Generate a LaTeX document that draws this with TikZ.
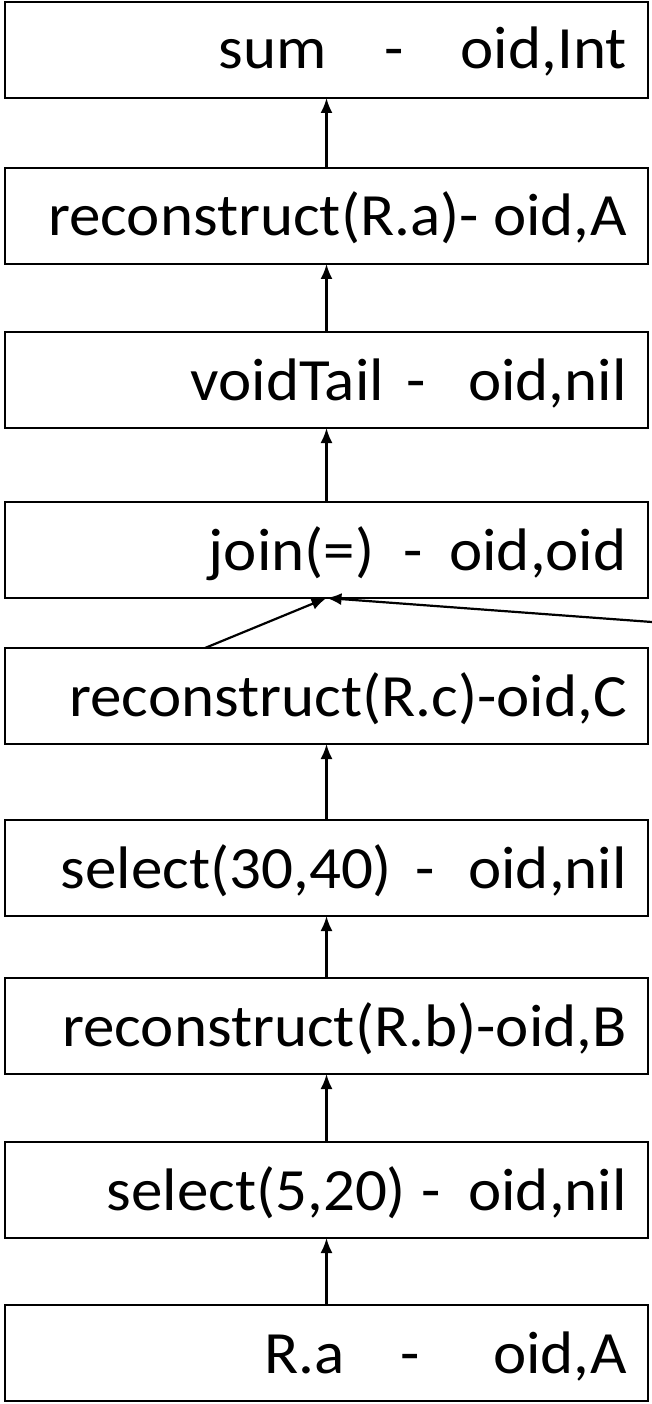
\documentclass[tikz,border=0pt]{standalone}
\usepackage{fontspec}
\setmainfont{Carlito}[FakeStretch=1.05]
\usetikzlibrary{arrows.meta,calc}
\begin{document}
\begin{tikzpicture}[x=1pt,y=-1pt,
  opbox/.style={draw,line width=2.2pt,minimum width=643pt,minimum height=96pt,
    anchor=north west,inner sep=0pt,outer sep=0pt},
  optext/.style={anchor=base east,inner sep=0pt,font=\fontsize{60}{72}\selectfont},
  flow/.style={line width=2.2pt,-{Latex[length=15pt,width=12pt]}}]
\useasboundingbox (0,0) rectangle (652,1404);
% operator boxes, top to bottom
\foreach \n/\t in {b1/2,b2/168,b3/332,b4/502,b5/648,b6/820,b7/978,b8/1142,b9/1305}{
  \node[opbox] (\n) at (5,\t) {};
}
\node[optext] (t1) at ($(b1.north east)+(-21,67)$) {sum\kern58pt-\kern57pt oid,Int};
\node[optext] (t2) at ($(b2.north east)+(-21,68)$) {reconstruct(R.a)- oid,A};
\node[optext] (t3) at ($(b3.north east)+(-21,68)$) {voidTail\kern23pt-\kern42pt oid,nil};
\node[optext] (t4) at ($(b4.north east)+(-21,68)$) {join(=)\kern29pt-\kern27pt oid,oid};
\node[optext] (t5) at ($(b5.north east)+(-21,68)$) {reconstruct(R.c)-oid,C};
\node[optext] (t6) at ($(b6.north east)+(-21,68)$) {select(30,40)\kern23pt-\kern34pt oid,nil};
\node[optext] (t7) at ($(b7.north east)+(-21,68)$) {reconstruct(R.b)-oid,B};
\node[optext] (t8) at ($(b8.north east)+(-21,68)$) {select(5,20)\kern15pt-\kern28pt oid,nil};
\node[optext] (t9) at ($(b9.north east)+(-21,68)$) {R.a\kern56pt-\kern73pt oid,A};
% data flow
\draw[flow] (b9.north) -- (b8.south);
\draw[flow] (b8.north) -- (b7.south);
\draw[flow] (b7.north) -- (b6.south);
\draw[flow] (b6.north) -- (b5.south);
\coordinate (c5) at ($(b5.north west)+(200,0)$);
\coordinate (rin) at (652,622);
\draw[flow] (c5) -- (b4.south);
\draw[flow] (rin) -- (b4.south);
\draw[flow] (b4.north) -- (b3.south);
\draw[flow] (b3.north) -- (b2.south);
\draw[flow] (b2.north) -- (b1.south);
\end{tikzpicture}
\end{document}
